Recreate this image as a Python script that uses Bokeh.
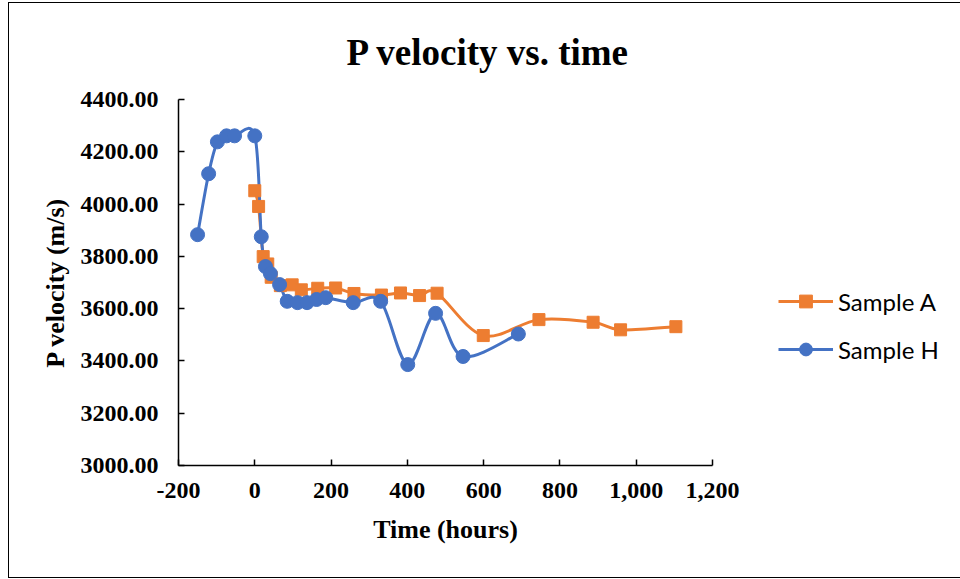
import numpy as np
from bokeh.plotting import figure
from bokeh.models import (Range1d, FixedTicker, PrintfTickFormatter, NumeralTickFormatter,
                          Legend, LegendItem, ColumnDataSource)
from bokeh.embed import file_html
from bokeh.resources import INLINE

# ---- data ----
hours_a = [0, 10, 22, 34, 43, 67, 98, 122, 165, 212, 260, 332, 382, 432, 478, 599, 745, 887, 959, 1104]
vel_a = [4051, 3991, 3799, 3771, 3720, 3688, 3691, 3672, 3678, 3679, 3658, 3652, 3660, 3650, 3659,
         3497, 3558, 3548, 3519, 3531]

hours_h = [-150, -121, -98, -74, -53, 0, 17, 28, 41, 65, 85, 112, 137, 162, 186, 258, 330, 401, 474, 546, 691]
vel_h = [3883, 4116, 4238, 4261, 4261, 4261, 3875, 3761, 3734, 3692, 3628, 3623, 3623, 3635, 3642,
         3623, 3628, 3386, 3582, 3417, 3503]

x_ticks = [-200, 0, 200, 400, 600, 800, 1000, 1200]
y_ticks = [3000, 3200, 3400, 3600, 3800, 4000, 4200, 4400]

series_names = ["Sample A", "Sample H"]
chart_title = "P velocity vs. time"
ORANGE = "#ED7D31"
BLUE = "#4472C4"


def smooth_segments(xs, ys):
    """Catmull-Rom style cubic Bezier segments through the data points (like Excel smoothing)."""
    x = np.asarray(xs, float)
    y = np.asarray(ys, float)
    n = len(x)
    xp = np.concatenate([[x[0]], x, [x[-1]]])
    yp = np.concatenate([[y[0]], y, [y[-1]]])
    return dict(
        x0=x[:-1], y0=y[:-1], x1=x[1:], y1=y[1:],
        cx0=x[:-1] + (xp[2:n + 1] - xp[0:n - 1]) / 6.0,
        cy0=y[:-1] + (yp[2:n + 1] - yp[0:n - 1]) / 6.0,
        cx1=x[1:] - (xp[3:n + 2] - xp[1:n]) / 6.0,
        cy1=y[1:] - (yp[3:n + 2] - yp[1:n]) / 6.0,
    )


p = figure(frame_width=534, frame_height=366,
           x_range=Range1d(-200, 1200), y_range=Range1d(3000, 4400),
           output_backend="svg", toolbar_location=None,
           min_border_left=169, min_border_right=240, min_border_top=96, min_border_bottom=112,
           styles={"margin-left": "8px", "margin-top": "2px", "border": "1px solid black"})
p.outline_line_color = None
p.xgrid.grid_line_color = None
p.ygrid.grid_line_color = None

SERIF = "Liberation Serif"

p.title.text = chart_title
p.title.text_font = SERIF
p.title.text_font_style = "bold"
p.title.text_font_size = "37px"
p.title.text_color = "black"
p.title.align = "left"
p.title.offset = 168
p.title.standoff = 53

for ax in (p.xaxis[0], p.yaxis[0]):
    ax.major_tick_in = 6
    ax.major_tick_out = 0
    ax.minor_tick_in = 0
    ax.minor_tick_out = 0
    ax.axis_line_width = 1.5
    ax.axis_line_color = "black"
    ax.major_tick_line_color = "black"
    ax.major_tick_line_width = 1.5
    ax.major_label_text_font = SERIF
    ax.major_label_text_font_style = "bold"
    ax.major_label_text_font_size = "24px"
    ax.major_label_text_color = "black"
    ax.axis_label_text_font = SERIF
    ax.axis_label_text_font_style = "bold"
    ax.axis_label_text_font_size = "26px"
    ax.axis_label_text_color = "black"

p.xaxis[0].ticker = FixedTicker(ticks=x_ticks)
p.yaxis[0].ticker = FixedTicker(ticks=y_ticks)
p.xaxis[0].formatter = NumeralTickFormatter(format="0,0")
p.yaxis[0].formatter = PrintfTickFormatter(format="%.2f")
p.xaxis[0].axis_label = "Time (hours)"
p.yaxis[0].axis_label = "P velocity (m/s)"
p.xaxis[0].major_label_standoff = 17
p.yaxis[0].major_label_standoff = 20
p.xaxis[0].axis_label_standoff = 14
p.yaxis[0].axis_label_standoff = 8

# smoothed lines
seg_a = ColumnDataSource(smooth_segments(hours_a, vel_a))
seg_h = ColumnDataSource(smooth_segments(hours_h, vel_h))
p.bezier(x0="x0", y0="y0", x1="x1", y1="y1", cx0="cx0", cy0="cy0", cx1="cx1", cy1="cy1",
         source=seg_a, line_color=ORANGE, line_width=3)
p.bezier(x0="x0", y0="y0", x1="x1", y1="y1", cx0="cx0", cy0="cy0", cx1="cx1", cy1="cy1",
         source=seg_h, line_color=BLUE, line_width=3)

mk_a = p.scatter(hours_a, vel_a, marker="square", size=12, fill_color=ORANGE, line_color=ORANGE)
mk_h = p.scatter(hours_h, vel_h, marker="circle", size=14, fill_color=BLUE, line_color=BLUE)

# legend-only line renderers (draw nothing in the plot)
lg_a = p.line(x=[np.nan], y=[np.nan], line_color=ORANGE, line_width=3)
lg_h = p.line(x=[np.nan], y=[np.nan], line_color=BLUE, line_width=3)

legend = Legend(items=[LegendItem(label=series_names[0], renderers=[lg_a, mk_a], index=0),
                       LegendItem(label=series_names[1], renderers=[lg_h, mk_h], index=0)],
                location=(66, 100), margin=0, padding=0, spacing=16,
                glyph_width=55, glyph_height=32, label_height=20, label_standoff=5,
                label_text_font="Lato", label_text_font_size="24px", label_text_color="black",
                border_line_color=None, background_fill_alpha=0)
p.add_layout(legend, "right")

open("out.html", "w").write(file_html(p, INLINE))
